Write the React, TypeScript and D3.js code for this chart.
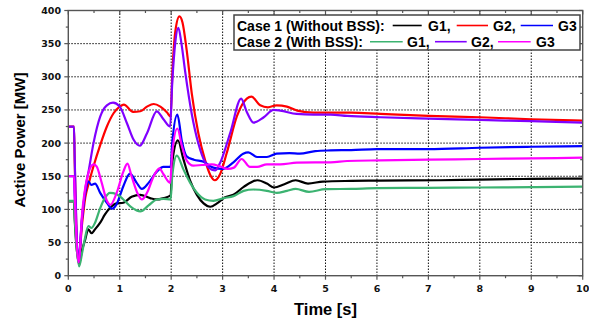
import React from "react";
import * as d3 from "d3";

type Pt = [number, number];

const xTicks = [0, 1, 2, 3, 4, 5, 6, 7, 8, 9, 10];
const yTicks = [0, 50, 100, 150, 200, 250, 300, 350, 400];

const g1Case1: Pt[] = [[0,112],[0.11,112],[0.125,85],[0.21,18],[0.27,40],[0.32,52],[0.39,70],[0.45,64],[0.52,70],[0.62,80],[0.71,92],[0.81,102],[0.94,109],[1.07,110],[1.23,119],[1.4,122],[1.59,117],[1.72,115],[1.85,117],[1.99,121],[2.02,170],[2.13,204],[2.24,175],[2.37,143],[2.5,122],[2.63,109],[2.76,104],[2.89,109],[3.04,118],[3.21,122],[3.41,134],[3.68,144],[3.86,139],[4.0,133],[4.2,138],[4.42,144],[4.66,139],[4.95,142],[5.5,143],[6.05,143.5],[7.2,144],[8,145],[9,146],[10,146.5]];
const g2Case1: Pt[] = [[0,225],[0.11,225],[0.125,170],[0.2,24],[0.27,80],[0.33,118],[0.4,140],[0.49,165],[0.62,197],[0.75,225],[0.88,245],[1.0,255],[1.08,258],[1.26,247],[1.4,248],[1.53,255],[1.66,259],[1.79,255],[1.92,246],[1.99,240],[2.02,300],[2.08,368],[2.16,391],[2.22,382],[2.3,341],[2.4,275],[2.53,214],[2.66,174],[2.76,152],[2.85,144],[2.95,153],[3.08,185],[3.28,241],[3.47,267],[3.56,270],[3.73,257],[3.88,254],[4.05,257],[4.25,255],[4.45,249],[4.77,246],[5.1,246],[5.5,246],[6.07,244],[7,241],[8,239],[9,236],[10,234]];
const g3Case1: Pt[] = [[0,150],[0.11,150],[0.125,120],[0.2,28],[0.27,90],[0.33,125],[0.39,142],[0.45,137],[0.52,139],[0.62,125],[0.75,110],[0.85,101],[0.94,108],[1.07,135],[1.2,154],[1.33,140],[1.43,131],[1.56,140],[1.72,157],[1.85,164],[1.99,164],[2.02,200],[2.12,243],[2.21,202],[2.3,180],[2.44,175],[2.63,172],[2.82,163],[3.0,161],[3.21,171],[3.4,184],[3.5,186],[3.67,179],[3.86,179],[4.05,184],[4.3,185],[4.5,184],[4.8,188],[5.1,189],[5.5,189.5],[6.0,191],[7.0,191],[8.0,193],[9,194.5],[10,195.5]];
const g1Case2: Pt[] = [[0,113],[0.11,113],[0.125,88],[0.21,14],[0.27,35],[0.32,55],[0.39,75],[0.45,72],[0.52,80],[0.62,102],[0.71,117],[0.81,125],[0.94,123],[1.07,115],[1.23,103],[1.4,97],[1.56,106],[1.72,115],[1.85,116],[1.99,115],[2.02,150],[2.11,181],[2.24,160],[2.37,140],[2.5,125],[2.66,115],[2.82,113],[3.02,117],[3.21,120],[3.41,128],[3.6,130],[3.86,128],[4.05,125],[4.25,128],[4.42,131],[4.68,126.5],[5.0,130.5],[5.5,131],[6.0,132],[7.0,132.5],[8.0,133],[9,133.5],[10,134.5]];
const g2Case2: Pt[] = [[0,225],[0.11,225],[0.125,175],[0.2,22],[0.27,88],[0.33,130],[0.4,160],[0.49,200],[0.62,240],[0.75,257],[0.87,261],[1.0,255],[1.14,230],[1.27,205],[1.39,196],[1.53,215],[1.72,248],[1.85,236],[1.98,225],[2.02,290],[2.08,352],[2.14,374],[2.2,350],[2.27,309],[2.4,244],[2.53,199],[2.66,171],[2.79,160],[2.86,159],[2.95,170],[3.15,216],[3.36,267],[3.47,247],[3.6,231],[3.8,239],[3.99,250],[4.12,249],[4.44,244],[4.77,243],[5.1,243],[5.42,241],[6.07,239],[7,237],[8,235],[9,233],[10,231]];
const g3Case2: Pt[] = [[0,150],[0.11,150],[0.125,120],[0.2,20],[0.27,95],[0.36,145],[0.49,168],[0.55,165],[0.65,140],[0.75,113],[0.82,107],[0.94,125],[1.07,157],[1.15,169],[1.23,150],[1.36,122],[1.43,115],[1.53,125],[1.66,150],[1.77,162],[1.85,153],[1.98,140],[2.02,185],[2.12,222],[2.21,195],[2.3,174],[2.43,166],[2.6,167],[2.79,168],[2.95,165],[3.1,161],[3.22,163],[3.37,176],[3.53,164],[3.67,164],[3.86,168],[4.12,168],[4.44,170.5],[4.8,171],[5.1,171],[5.42,173],[6.07,174],[7,175],[8,176],[9,177],[10,178]];

const seriesList = [
  { name: "G1", data: g1Case1, color: "#000000" },
  { name: "G2", data: g2Case1, color: "#ff0000" },
  { name: "G3", data: g3Case1, color: "#0000ff" },
  { name: "G1", data: g1Case2, color: "#3cb371" },
  { name: "G2", data: g2Case2, color: "#8000ff" },
  { name: "G3", data: g3Case2, color: "#ff00ff" },
];

const W = 589, H = 322;
const L = 68.3, R = 582.7, T = 10.5, B = 275.7;

export default function App() {
  const x = d3.scaleLinear().domain([0, 10]).range([L, R]);
  const y = d3.scaleLinear().domain([0, 400]).range([B, T]);
  const line = d3.line<Pt>().x(d => x(d[0])).y(d => y(d[1])).curve(d3.curveMonotoneX);
  const xMinor = d3.range(0.5, 10, 1);
  const yMinor = d3.range(25, 400, 50);
  const tickFont = "'DejaVu Sans', Verdana, sans-serif";
  const arial = "'Liberation Sans', Arial, sans-serif";
  const axisColor = "#555";

  const legendRows = [
    { label: "Case 1 (Without BSS):", y: 30.7, ly: 25.5, items: [
      { s: seriesList[0], x1: 392.7, x2: 421.7, tx: 428, t: "G1," },
      { s: seriesList[1], x1: 456.7, x2: 488, tx: 493, t: "G2," },
      { s: seriesList[2], x1: 520.7, x2: 553, tx: 558, t: "G3" },
    ]},
    { label: "Case 2 (With BSS):", y: 46.5, ly: 41.7, items: [
      { s: seriesList[3], x1: 370, x2: 402.7, tx: 407, t: "G1," },
      { s: seriesList[4], x1: 435, x2: 466.7, tx: 471, t: "G2," },
      { s: seriesList[5], x1: 498, x2: 530.7, tx: 536, t: "G3" },
    ]},
  ];

  return (
    <svg width={W} height={H} style={{ position: "absolute", left: 0, top: 0, background: "#fff" }}>
      <rect x={0} y={0} width={W} height={H} fill="#fff" />
      {xTicks.slice(1, -1).map(t => (
        <line key={"gx" + t} x1={x(t)} x2={x(t)} y1={T} y2={B} stroke="#111" strokeWidth={1} strokeDasharray="1.5,1.5" />
      ))}
      {yTicks.slice(1, -1).map(v => (
        <line key={"gy" + v} x1={L} x2={R} y1={y(v)} y2={y(v)} stroke="#111" strokeWidth={1} strokeDasharray="1.5,1.5" />
      ))}
      {seriesList.map((s, i) => (
        <path key={i} d={line(s.data) || ""} fill="none" stroke={s.color} strokeWidth={2.2} strokeLinejoin="round" />
      ))}
      <rect x={L} y={T} width={R - L} height={B - T} fill="none" stroke={axisColor} strokeWidth={1.4} />
      {xTicks.map(t => (
        <g key={"xt" + t}>
          <line x1={x(t)} x2={x(t)} y1={B} y2={B + 4} stroke={axisColor} strokeWidth={1.2} />
          <line x1={x(t)} x2={x(t)} y1={T} y2={T + 4} stroke={axisColor} strokeWidth={1.2} />
          <text x={x(t)} y={292} textAnchor="middle" fontFamily={tickFont} fontWeight="bold" fontSize={9.5} fill="#111">{t}</text>
        </g>
      ))}
      {xMinor.map(t => (
        <g key={"xm" + t}>
          <line x1={x(t)} x2={x(t)} y1={B} y2={B + 2.5} stroke={axisColor} strokeWidth={1.2} />
          <line x1={x(t)} x2={x(t)} y1={T} y2={T + 2.5} stroke={axisColor} strokeWidth={1.2} />
        </g>
      ))}
      {yTicks.map(v => (
        <g key={"yt" + v}>
          <line x1={L - 4} x2={L} y1={y(v)} y2={y(v)} stroke={axisColor} strokeWidth={1.2} />
          <line x1={R - 4} x2={R} y1={y(v)} y2={y(v)} stroke={axisColor} strokeWidth={1.2} />
          <text x={61} y={y(v)} dy="0.36em" textAnchor="end" fontFamily={tickFont} fontWeight="bold" fontSize={9.5} fill="#111">{v}</text>
        </g>
      ))}
      {yMinor.map(v => (
        <g key={"ym" + v}>
          <line x1={L - 2.5} x2={L} y1={y(v)} y2={y(v)} stroke={axisColor} strokeWidth={1.2} />
          <line x1={R - 2.5} x2={R} y1={y(v)} y2={y(v)} stroke={axisColor} strokeWidth={1.2} />
        </g>
      ))}
      <text x={(L + R) / 2} y={315} textAnchor="middle" fontFamily={arial} fontWeight="bold" fontSize={16.5} fill="#000">Time [s]</text>
      <text transform={`translate(24.5, ${(T + B) / 2 - 3}) rotate(-90)`} textAnchor="middle" fontFamily={arial} fontWeight="bold" fontSize={15} fill="#000">Active Power [MW]</text>
      <rect x={234} y={15} width={346} height={35} fill="#fff" stroke="#444" strokeWidth={1.5} />
      {legendRows.map((row, ri) => (
        <g key={"lr" + ri}>
          <text x={237} y={row.y} fontFamily={arial} fontWeight="bold" fontSize={14} fill="#000">{row.label}</text>
          {row.items.map((it, ii) => (
            <g key={ii}>
              <line x1={it.x1} x2={it.x2} y1={row.ly} y2={row.ly} stroke={it.s.color} strokeWidth={1.6} />
              <text x={it.tx} y={row.y} fontFamily={arial} fontWeight="bold" fontSize={14} fill="#000">{it.t}</text>
            </g>
          ))}
        </g>
      ))}
    </svg>
  );
}
